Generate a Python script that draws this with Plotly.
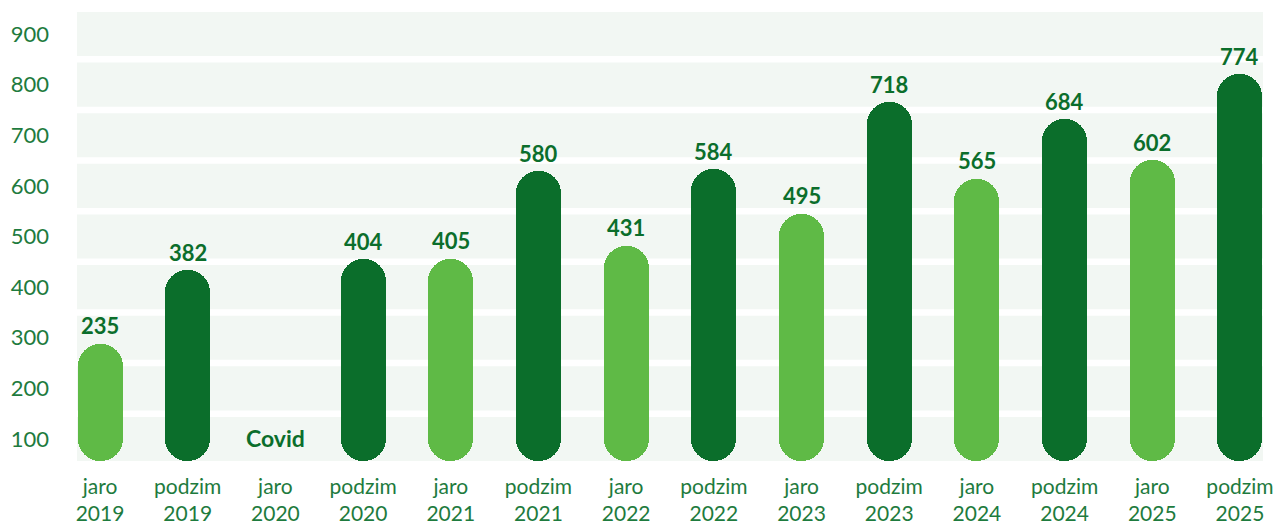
import plotly.graph_objects as go

categories = ["jaro<br>2019", "podzim<br>2019", "jaro<br>2020", "podzim<br>2020",
              "jaro<br>2021", "podzim<br>2021", "jaro<br>2022", "podzim<br>2022",
              "jaro<br>2023", "podzim<br>2023", "jaro<br>2024", "podzim<br>2024",
              "jaro<br>2025", "podzim<br>2025"]
values = [235, 382, None, 404, 405, 580, 431, 584, 495, 718, 565, 684, 602, 774]
season = ["jaro", "podzim", "jaro", "podzim", "jaro", "podzim", "jaro", "podzim",
          "jaro", "podzim", "jaro", "podzim", "jaro", "podzim"]
y_ticks = [100, 200, 300, 400, 500, 600, 700, 800, 900]
covid_label = "Covid"

LIGHT = "#5fba46"
DARK = "#0b6e2b"
TXT = "#1e7b3e"
BAND = "#f2f7f3"
FONT = "Lato"

colors = [LIGHT if s == "jaro" else DARK for s in season]
BW = 0.513

xs = [c for c, v in zip(categories, values) if v is not None]
vs = [v for v in values if v is not None]
cs = [c for c, v in zip(colors, values) if v is not None]

fig = go.Figure()
fig.add_trace(go.Bar(
    x=xs, y=vs, base=0, width=BW,
    marker=dict(color=cs, cornerradius="50%", line=dict(width=0)),
    hoverinfo="skip", showlegend=False,
))
# invisible trace for the labelled axis
fig.add_trace(go.Scatter(x=[categories[0]], y=[y_ticks[0]], yaxis="y2",
                         mode="markers", marker=dict(opacity=0),
                         hoverinfo="skip", showlegend=False))

shapes = []
for t in y_ticks:
    shapes.append(dict(type="rect", xref="paper", yref="y2", x0=0, x1=1,
                       y0=t - 43.5, y1=t + 43.5, fillcolor=BAND,
                       line=dict(width=0), layer="below"))

annotations = []
for x, v in zip(xs, vs):
    annotations.append(dict(x=x, y=v, xref="x", yref="y", text=str(v),
                            showarrow=False, yanchor="middle", yshift=18,
                            font=dict(family=FONT, size=22, color=DARK, weight="bold")))
annotations.append(dict(x=categories[2], y=100, xref="x", yref="y2", text=covid_label,
                        showarrow=False, yanchor="middle", yshift=1,
                        font=dict(family=FONT, size=23, color=DARK, weight="bold")))

fig.update_layout(
    width=1281, height=527,
    margin=dict(l=77, r=18, t=12, b=66, autoexpand=False),
    paper_bgcolor="white", plot_bgcolor="rgba(0,0,0,0)",
    barmode="overlay", bargap=0,
    shapes=shapes, annotations=annotations,
    xaxis=dict(type="category", categoryorder="array", categoryarray=categories,
               range=[-0.2625, 13.2625], showgrid=False, zeroline=False, automargin=False,
               showline=False, ticks="", ticklabelstandoff=11,
               tickfont=dict(family=FONT, size=21, color=TXT)),
    yaxis=dict(range=[0, 898], showgrid=False, zeroline=False, showticklabels=False,
               showline=False, ticks="", automargin=False),
    yaxis2=dict(range=[56.5, 943.5], overlaying="y", side="left", tickvals=y_ticks,
                showgrid=False, zeroline=False, showline=False, ticks="", automargin=False,
                ticklabelstandoff=27,
                tickfont=dict(family=FONT, size=22, color=TXT)),
)

fig.write_html("out.html", config={"displayModeBar": False},
               post_script="document.body.style.margin='0';")
